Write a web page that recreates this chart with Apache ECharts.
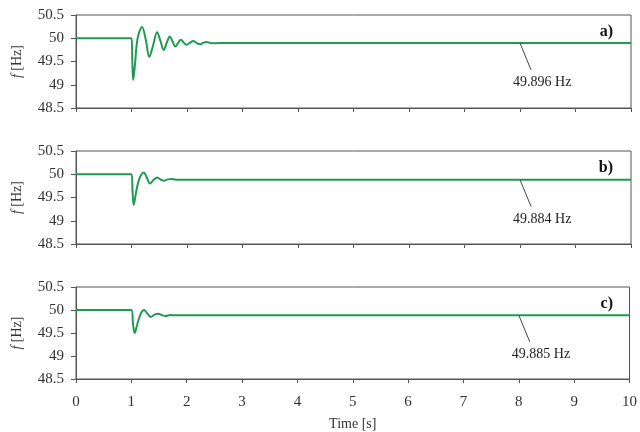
<!DOCTYPE html>
<html><head><meta charset="utf-8">
<script src="https://cdn.jsdelivr.net/npm/echarts@6/dist/echarts.min.js"></script>
<style>html,body{margin:0;padding:0;background:#fff}#c{width:640px;height:432px}</style>
</head><body><div id="c"></div>
<script>
const tA = [0, 1.0, 1.015, 1.03, 1.06, 1.11, 1.19, 1.26, 1.32, 1.39, 1.46, 1.52, 1.58, 1.64, 1.69, 1.74, 1.79, 1.84, 1.89, 1.94, 1.99, 2.05, 2.11, 2.17, 2.23, 2.29, 2.35, 2.45, 2.6, 10];
const fA = [50.0, 50.0, 49.5, 49.10, 49.4, 50.0, 50.24, 49.95, 49.60, 49.85, 50.13, 49.95, 49.75, 49.92, 50.04, 49.93, 49.82, 49.90, 49.97, 49.91, 49.86, 49.90, 49.94, 49.90, 49.87, 49.90, 49.92, 49.89, 49.90, 49.896];
const tB = [0, 1.0, 1.02, 1.04, 1.08, 1.14, 1.22, 1.28, 1.33, 1.40, 1.46, 1.52, 1.58, 1.65, 1.72, 1.80, 10];
const fB = [50.0, 50.0, 49.6, 49.34, 49.6, 49.9, 50.04, 49.92, 49.80, 49.88, 49.93, 49.89, 49.86, 49.89, 49.90, 49.884, 49.884];
const tC = [0, 1.0, 1.03, 1.06, 1.11, 1.17, 1.23, 1.29, 1.35, 1.42, 1.48, 1.55, 1.62, 1.70, 1.80, 10];
const fC = [50.0, 50.0, 49.7, 49.5, 49.7, 49.92, 50.0, 49.92, 49.85, 49.90, 49.92, 49.89, 49.87, 49.89, 49.885, 49.885];
const finalVals = [49.896, 49.884, 49.885];
const panelLabels = ['a)', 'b)', 'c)'];
const yTicks = [48.5, 49, 49.5, 50, 50.5];
const xTicks = [0,1,2,3,4,5,6,7,8,9,10];

const font = 'Liberation Serif, Times New Roman, serif';
const green = '#1f9a52';
const axisCol = '#555';
const tops = [15, 151, 287];
const heights = [93, 93, 92];
const series = [tA, tB, tC].map((t, i) => ({
  type: 'line',
  xAxisIndex: i, yAxisIndex: i,
  data: t.map((x, j) => [x, [fA, fB, fC][i][j]]),
  showSymbol: false, symbol: 'none',
  smooth: 0.35,
  lineStyle: {color: green, width: 2},
  markLine: {
    silent: true, symbol: 'none',
    lineStyle: {color: '#444', width: 1, type: 'solid'},
    label: {show: false},
    data: [[{coord: [8.0, finalVals[i]]}, {coord: [8.2, finalVals[i] - 0.58]}]]
  },
  markPoint: {
    silent: true, symbol: 'circle', symbolSize: 0,
    data: [{coord: [8.4, finalVals[i] - 0.85]}],
    label: {show: true, formatter: finalVals[i].toFixed(3) + ' Hz', color: '#222', fontFamily: font, fontSize: 14, position: 'inside'}
  }
}));
const chart = echarts.init(document.getElementById('c'));
chart.setOption({
  animation: false,
  grid: tops.map((tp, i) => ({left: 76, right: 9, top: tp, height: heights[i], show: true, borderColor: axisCol, borderWidth: 1, backgroundColor: 'transparent'})),
  title: panelLabels.map((l, i) => ({text: l, right: 22, top: tops[i] + 4, textStyle: {fontFamily: font, fontSize: 16, fontWeight: 'bold', color: '#111'}})),
  xAxis: [0,1,2].map(i => ({
    gridIndex: i, type: 'value', min: 0, max: 10, interval: 1,
    axisLine: {lineStyle: {color: axisCol}},
    axisTick: {show: true, length: 4, lineStyle: {color: axisCol}},
    splitLine: {show: false},
    axisLabel: {show: i === 2, color: '#333', fontFamily: font, fontSize: 15, margin: 16},
    name: i === 2 ? 'Time [s]' : '', nameLocation: 'middle', nameGap: 38,
    nameTextStyle: {color: '#333', fontFamily: font, fontSize: 14}
  })),
  yAxis: [0,1,2].map(i => ({
    gridIndex: i, type: 'value', min: 48.5, max: 50.5, interval: 0.5,
    axisLine: {show: true, lineStyle: {color: axisCol}},
    axisTick: {show: true, length: 5, lineStyle: {color: axisCol}},
    splitLine: {show: false},
    axisLabel: {color: '#333', fontFamily: font, fontSize: 15, margin: 12},
    name: '{it|f} [Hz]', nameLocation: 'middle', nameGap: 52, nameRotate: 90,
    nameTextStyle: {color: '#333', fontFamily: font, fontSize: 14,
      rich: {it: {fontStyle: 'italic', fontFamily: font, fontSize: 14, color: '#333'}}}
  })),
  series: series
});
</script></body></html>
